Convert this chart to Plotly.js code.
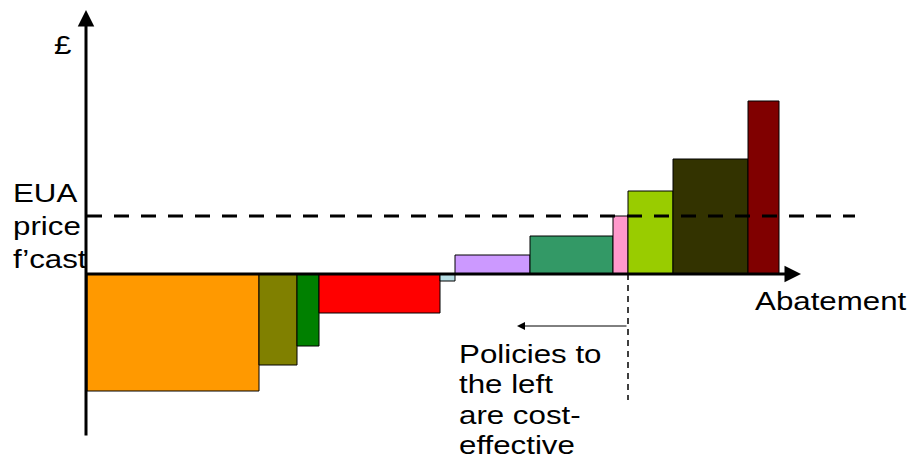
<!DOCTYPE html>
<html>
<head>
<meta charset="utf-8">
<script src="https://cdn.plot.ly/plotly-3.0.1.min.js"></script>
<style>html,body{margin:0;padding:0;background:#fff;}#chart{width:907px;height:463px;}</style>
</head>
<body>
<div id="chart"></div>
<script>
// Marginal abatement cost curve (arbitrary units)
const policies = ['P1','P2','P3','P4','P5','P6','P7','P8','P9','P10','P11'];
const abatement = [17.2, 3.8, 2.2, 12.1, 1.5, 7.5, 8.3, 1.5, 4.5, 7.5, 3.1];
const cost = [-11.7, -9.1, -7.2, -3.9, -0.7, 1.9, 3.8, 5.8, 8.3, 11.5, 17.3];
const colors = ['#FF9900','#808000','#008000','#FF0000','#B7DEE4','#CC99FF','#339966','#FF99CC','#99CC00','#333300','#800000'];
const euaPrice = 5.8;
const yLabel = '£';
const xLabel = 'Abatement';
const euaLines = ['EUA','price','f\u2019cast'];
const noteLines = ['Policies to','the left','are cost-','effective'];

const mids = [], widths = [];
let acc = 0;
abatement.forEach(w => { mids.push(acc + w/2); widths.push(w); acc += w; });
const cutoff = abatement.slice(0, 8).reduce((a,b)=>a+b, 0);

const FONT = 'Liberation Sans, Arial, sans-serif';
const fs = 26.5;
const STRETCH = 1.18;

const annotations = [];
// y axis arrow
annotations.push({x:-0.1, y:26.4, ax:-0.1, ay:-16.3, xref:'x', yref:'y', axref:'x', ayref:'y',
  text:'', showarrow:true, arrowhead:2, arrowsize:1.1, arrowwidth:3, arrowcolor:'#000', standoff:0, startstandoff:0});
// x axis arrow
annotations.push({x:71.4, y:0, ax:-0.25, ay:0, xref:'x', yref:'y', axref:'x', ayref:'y',
  text:'', showarrow:true, arrowhead:2, arrowsize:1.1, arrowwidth:3, arrowcolor:'#000', standoff:0, startstandoff:0});
// cost-effective arrow
annotations.push({x:cutoff - 11.1, y:-5.2, ax:cutoff, ay:-5.2, xref:'x', yref:'y', axref:'x', ayref:'y',
  text:'', showarrow:true, arrowhead:2, arrowsize:1.6, arrowwidth:1, arrowcolor:'#000', standoff:0, startstandoff:0});
// texts
annotations.push({x:-3.5, y:22.9, xref:'x', yref:'y', text:yLabel, showarrow:false, xanchor:'left', yanchor:'middle',
  font:{family:FONT, size:fs, color:'#000'}});
annotations.push({x:66.6, y:-2.7, xref:'x', yref:'y', text:xLabel, showarrow:false, xanchor:'left', yanchor:'middle',
  font:{family:FONT, size:fs, color:'#000'}});
euaLines.forEach((t,i) => annotations.push({x:-7.6, y:8.15 - i*3.3, xref:'x', yref:'y', text:t, showarrow:false,
  xanchor:'left', yanchor:'middle', font:{family:FONT, size:fs, color:'#000'}}));
noteLines.forEach((t,i) => annotations.push({x:37.0, y:-7.95 - i*3.05, xref:'x', yref:'y', text:t, showarrow:false,
  xanchor:'left', yanchor:'middle', font:{family:FONT, size:fs, color:'#000'}}));

const shapes = [
  {type:'line', xref:'x', yref:'y', x0:0, x1:76.8, y0:euaPrice, y1:euaPrice, line:{color:'#000', width:3, dash:'15px,12px'}, layer:'above'},
  {type:'line', xref:'x', yref:'y', x0:cutoff, x1:cutoff, y0:0, y1:-12.6, line:{color:'#000', width:1.5, dash:'6px,5px'}, layer:'above'}
];

Plotly.newPlot('chart', [{
  type:'bar', x:mids, y:cost, width:widths, text:policies, hoverinfo:'none', textposition:'none',
  marker:{color:colors, line:{color:'#000', width:1}}
}], {
  width:907, height:463, margin:{l:0,r:0,t:0,b:0},
  paper_bgcolor:'#fff', plot_bgcolor:'#fff', showlegend:false,
  xaxis:{range:[-8.7, 82.0], visible:false, fixedrange:true},
  yaxis:{range:[-18.9, 27.4], visible:false, fixedrange:true},
  annotations:annotations, shapes:shapes
}, {staticPlot:true}).then(() => {
  // the reference lettering is horizontally widened; stretch each label about its left edge
  document.querySelectorAll('#chart .annotation-text').forEach(t => {
    if (!t.textContent.trim()) return;
    const b = t.getBBox();
    const prev = t.getAttribute('transform') || '';
    t.setAttribute('transform', (prev + ' translate(' + b.x + ',0) scale(' + STRETCH + ',1) translate(' + (-b.x) + ',0)').trim());
  });
});
</script>
</body>
</html>
